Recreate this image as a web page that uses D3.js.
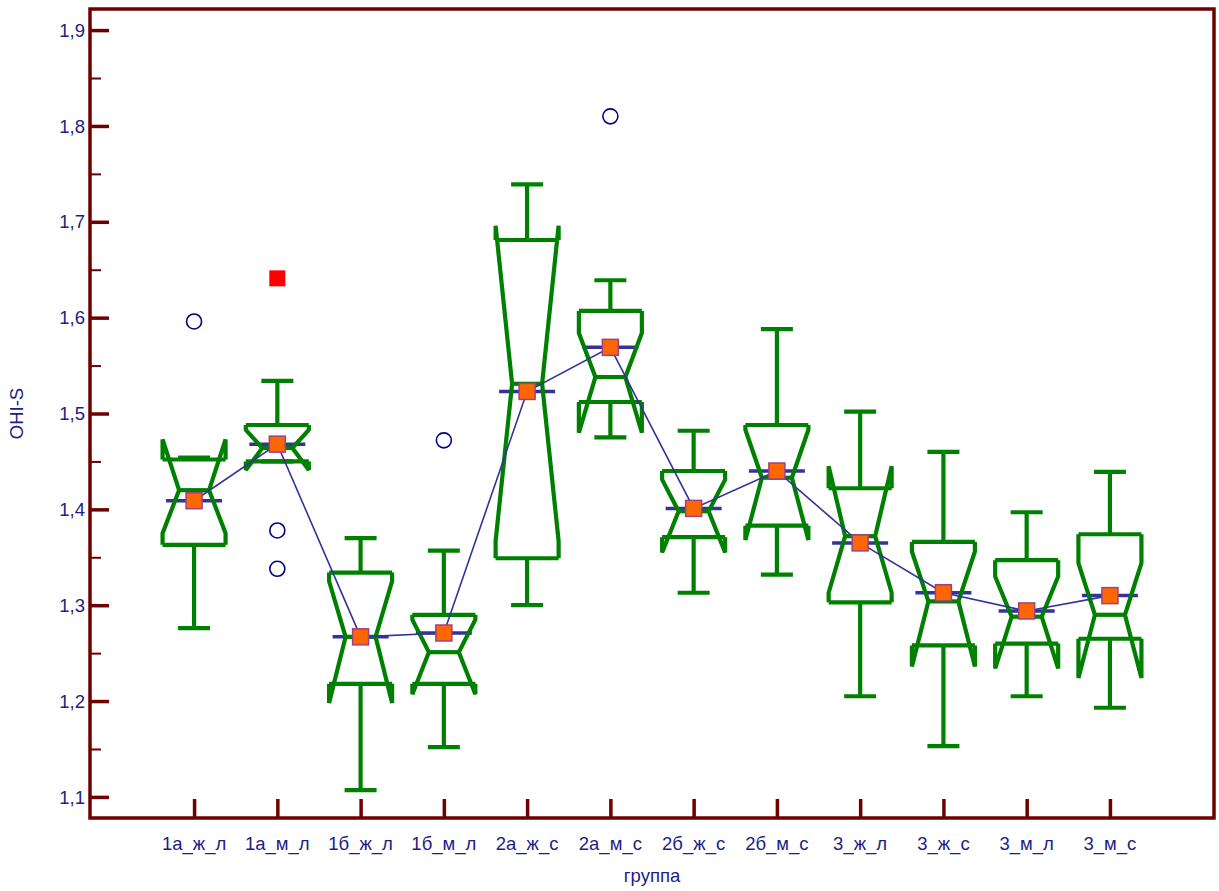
<!DOCTYPE html>
<html><head><meta charset="utf-8">
<script src="https://cdn.jsdelivr.net/npm/d3@7"></script>
<style>body{margin:0;background:#fff}svg{display:block}</style>
</head><body>
<svg id="chart" width="1219" height="891"></svg>
<script>
const categories = ["1а_ж_л","1а_м_л","1б_ж_л","1б_м_л","2а_ж_с","2а_м_с","2б_ж_с","2б_м_с","3_ж_л","3_ж_с","3_м_л","3_м_с"];
const whiskerMax = [1.454,1.534,1.370,1.357,1.739,1.639,1.482,1.588,1.502,1.460,1.397,1.439];
const q3        = [1.452,1.488,1.334,1.290,1.681,1.607,1.440,1.488,1.422,1.366,1.347,1.374];
const notchHi   = [1.473,1.483,1.325,1.285,1.696,1.584,1.431,1.483,1.445,1.356,1.330,1.344];
const medians   = [1.420,1.464,1.267,1.251,1.531,1.538,1.398,1.433,1.372,1.304,1.288,1.290];
const notchLo   = [1.375,1.441,1.198,1.207,1.367,1.480,1.355,1.368,1.313,1.236,1.234,1.224];
const q1        = [1.363,1.450,1.218,1.218,1.349,1.512,1.371,1.383,1.303,1.258,1.260,1.265];
const whiskerMin= [1.276,1.450,1.107,1.152,1.300,1.475,1.313,1.332,1.205,1.153,1.205,1.193];
const means     = [1.409,1.468,1.267,1.271,1.523,1.569,1.401,1.440,1.365,1.313,1.294,1.310];
const outlierCats = ["1а_ж_л","1а_м_л","1а_м_л","1б_м_л","2а_м_с"];
const outlierVals = [1.596,1.378,1.338,1.472,1.810];
const farOutlierCats = ["1а_м_л"];
const farOutlierVals = [1.641];
const yMajorTicks = [1.1,1.2,1.3,1.4,1.5,1.6,1.7,1.8,1.9];
const yMinorTicks = [1.15,1.25,1.35,1.45,1.55,1.65,1.75,1.85];
const yTitle = "OHI-S";
const xTitle = "группа";

const svg = d3.select("#chart");
const L = 90, R = 1214, T = 9, B = 818;
const frameColor = "#6e0000", textColor = "#1c1c8a", green = "#008000", blue = "#333399";
const font = "Liberation Sans, Arial, sans-serif", fs = 18.5;

const x = d3.scalePoint().domain(categories).range([L, R]).padding(1.25);
const y = d3.scaleLinear().domain([1.078, 1.922]).range([B, T]);

const fmt = v => d3.format(".1f")(v).replace(".", ",");

// y axis ticks (inward)
const yAxisMajor = d3.axisRight(y).tickValues(yMajorTicks).tickSize(19).tickFormat("");
const gMaj = svg.append("g").attr("transform", `translate(${L},0)`).call(yAxisMajor);
gMaj.select(".domain").remove();
gMaj.selectAll("line").attr("stroke", frameColor).attr("stroke-width", 3.5);
const yAxisMinor = d3.axisRight(y).tickValues(yMinorTicks).tickSize(11).tickFormat("");
const gMin = svg.append("g").attr("transform", `translate(${L},0)`).call(yAxisMinor);
gMin.select(".domain").remove();
gMin.selectAll("line").attr("stroke", frameColor).attr("stroke-width", 2);
// y labels
svg.append("g").selectAll("text").data(yMajorTicks).join("text")
  .attr("x", L - 5).attr("y", d => y(d)).attr("dy", "0.36em")
  .attr("text-anchor", "end").attr("fill", textColor)
  .attr("font-family", font).attr("font-size", fs)
  .text(fmt);

// x axis ticks (inward)
const xAxis = d3.axisTop(x).tickSize(19).tickFormat("");
const gx = svg.append("g").attr("transform", `translate(0,${B})`).call(xAxis);
gx.select(".domain").remove();
gx.selectAll("line").attr("stroke", frameColor).attr("stroke-width", 3.5);
svg.append("g").selectAll("text").data(categories).join("text")
  .attr("x", d => x(d)).attr("y", B + 32)
  .attr("text-anchor", "middle").attr("fill", textColor)
  .attr("font-family", font).attr("font-size", fs)
  .text(d => d);

// titles
svg.append("text").attr("x", (L + R) / 2).attr("y", 882).attr("text-anchor", "middle")
  .attr("fill", textColor).attr("font-family", font).attr("font-size", fs)
  .text(xTitle);
svg.append("text").attr("transform", `translate(23,${(T + B) / 2}) rotate(-90)`).attr("text-anchor", "middle")
  .attr("fill", textColor).attr("font-family", font).attr("font-size", fs)
  .text(yTitle);

const boxes = categories.map((c, i) => ({c, i}));
const halfW = 31.5, waistW = 15, capW = 16, dashW = 28;

// mean dashes
svg.append("g").selectAll("line").data(boxes).join("line")
  .attr("x1", d => x(d.c) - dashW).attr("x2", d => x(d.c) + dashW)
  .attr("y1", d => y(means[d.i])).attr("y2", d => y(means[d.i]))
  .attr("stroke", blue).attr("stroke-width", 3.5);

const gb = svg.append("g").attr("fill", "none").attr("stroke", green).attr("stroke-width", 4.2)
  .attr("stroke-linejoin", "bevel");
boxes.forEach(d => {
  const cx = x(d.c), i = d.i;
  // whiskers
  gb.append("line").attr("x1", cx).attr("x2", cx).attr("y1", y(q3[i])).attr("y2", y(whiskerMax[i]));
  gb.append("line").attr("x1", cx - capW).attr("x2", cx + capW).attr("y1", y(whiskerMax[i])).attr("y2", y(whiskerMax[i]));
  gb.append("line").attr("x1", cx).attr("x2", cx).attr("y1", y(q1[i])).attr("y2", y(whiskerMin[i]));
  gb.append("line").attr("x1", cx - capW).attr("x2", cx + capW).attr("y1", y(whiskerMin[i])).attr("y2", y(whiskerMin[i]));
  // notched sides
  [-1, 1].forEach(s => {
    const xe = cx + s * halfW, xw = cx + s * waistW;
    gb.append("path").attr("d", d3.line()([
      [xe, y(q3[i])], [xe, y(notchHi[i])], [xw, y(medians[i])], [xe, y(notchLo[i])], [xe, y(q1[i])]
    ]));
  });
  gb.append("line").attr("x1", cx - halfW).attr("x2", cx + halfW).attr("y1", y(q3[i])).attr("y2", y(q3[i]));
  gb.append("line").attr("x1", cx - halfW).attr("x2", cx + halfW).attr("y1", y(q1[i])).attr("y2", y(q1[i]));
  gb.append("line").attr("x1", cx - waistW).attr("x2", cx + waistW).attr("y1", y(medians[i])).attr("y2", y(medians[i]));
});

// mean connecting line
svg.append("path").datum(boxes)
  .attr("d", d3.line().x(d => x(d.c)).y(d => y(means[d.i])))
  .attr("fill", "none").attr("stroke", blue).attr("stroke-width", 1.6);

// mean squares
svg.append("g").selectAll("rect").data(boxes).join("rect")
  .attr("x", d => x(d.c) - 8).attr("y", d => y(means[d.i]) - 8)
  .attr("width", 16).attr("height", 16)
  .attr("fill", "#ff6600").attr("stroke", "#a04080").attr("stroke-width", 1.5);

// outliers
svg.append("g").selectAll("circle").data(outlierVals.map((v, k) => ({c: outlierCats[k], v}))).join("circle")
  .attr("cx", d => x(d.c)).attr("cy", d => y(d.v)).attr("r", 7.5)
  .attr("fill", "none").attr("stroke", "#000080").attr("stroke-width", 1.6);
svg.append("g").selectAll("rect").data(farOutlierVals.map((v, k) => ({c: farOutlierCats[k], v}))).join("rect")
  .attr("x", d => x(d.c) - 8).attr("y", d => y(d.v) - 8).attr("width", 16).attr("height", 16)
  .attr("fill", "#ff0000");

// frame
svg.append("rect").attr("x", L).attr("y", T).attr("width", R - L).attr("height", B - T)
  .attr("fill", "none").attr("stroke", frameColor).attr("stroke-width", 3.5);
</script>
</body></html>
